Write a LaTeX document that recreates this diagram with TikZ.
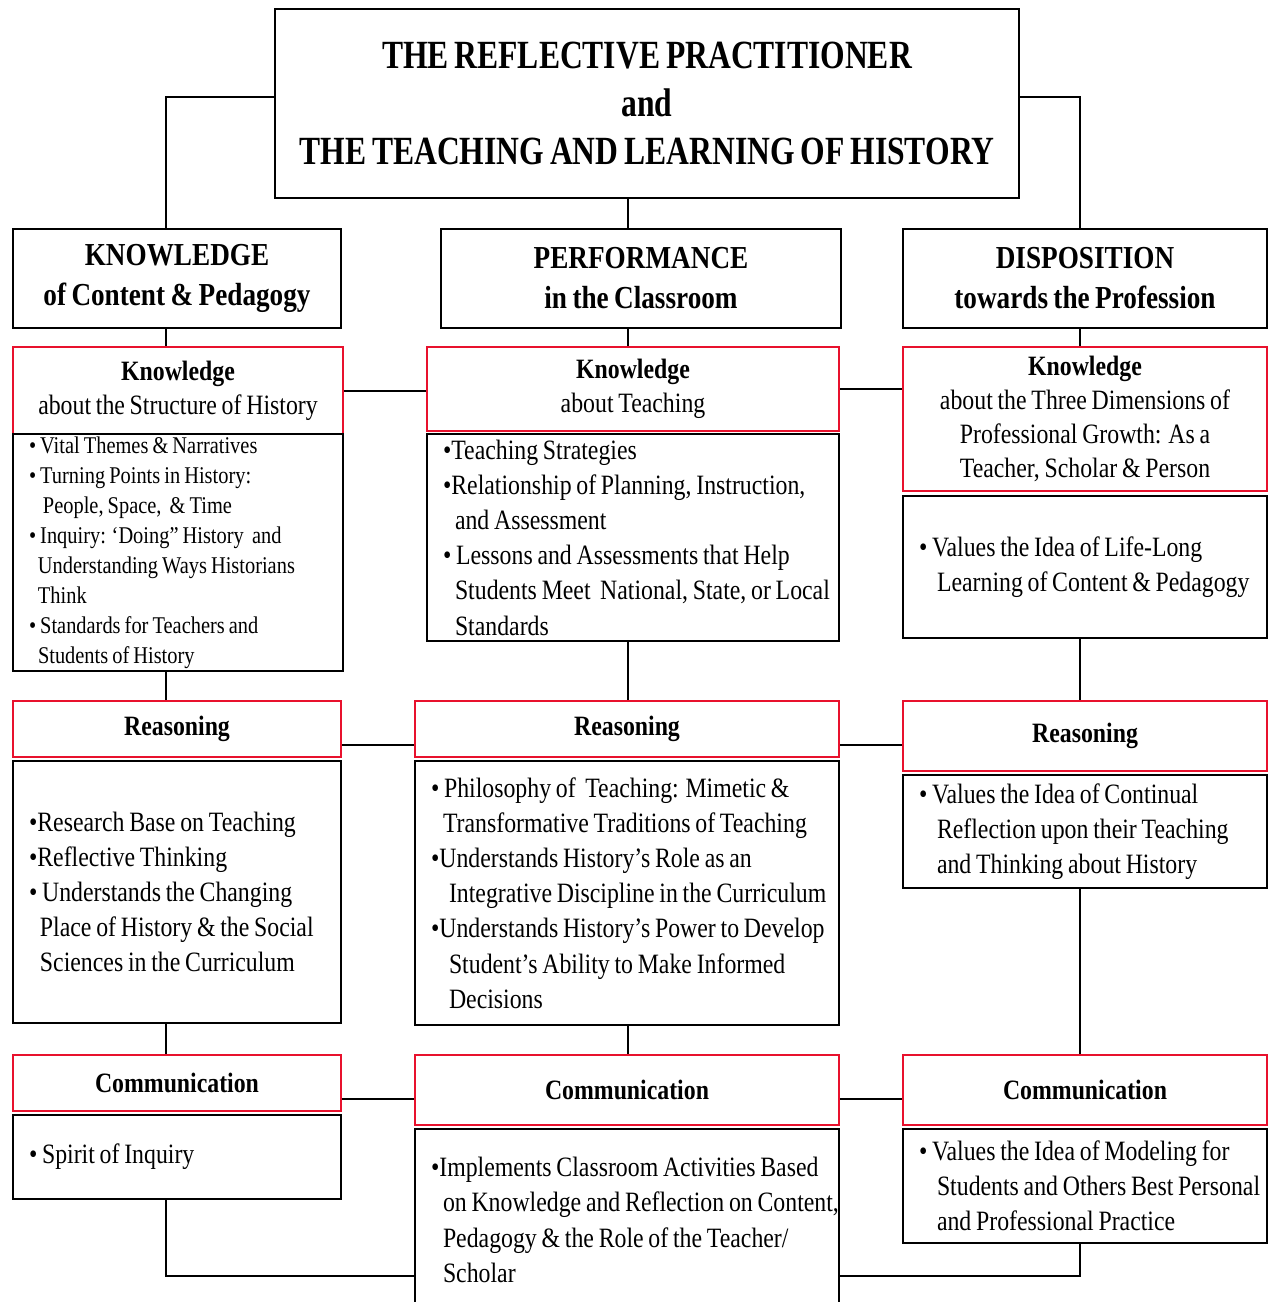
\documentclass[tikz,border=0pt]{standalone}
\usepackage{fontspec}
\setmainfont{Liberation Serif}[FakeStretch=0.85,WordSpace={0.8,0,0}]
\newfontfamily\titlefont{Liberation Serif}[FakeStretch=0.79,WordSpace={0.75,0,0}]
\usetikzlibrary{positioning}
\definecolor{boxred}{HTML}{E8112D}

\begin{document}
\begin{tikzpicture}[x=0.5pt,y=-0.5pt,
    every node/.style={inner sep=0pt},
    plainbox/.style={draw,line width=1pt,anchor=north west},
    headbox/.style={plainbox,align=center,minimum height=49.5pt,font=\bfseries\fontsize{16}{20}\selectfont},
    redbox/.style={draw=boxred,line width=1pt,anchor=north west,align=center,font=\fontsize{14}{17}\selectfont},
    listbox/.style={plainbox,align=left,inner xsep=8pt,font=\fontsize{14}{17.6}\selectfont,
      execute at begin node={\spaceskip=0pt\xspaceskip=0pt}},
    link/.style={line width=1pt}]

    \useasboundingbox (0,0) rectangle (1269,1302);
    \clip (0,0) rectangle (1269,1302);

    % trunk lines of the three columns
    \coordinate (lspine) at (166,0);
    \coordinate (pspine) at (628,0);
    \coordinate (rspine) at (1080,0);
    \coordinate (rail) at (0,1276);

    \node[plainbox,minimum width=372pt,minimum height=94.5pt,align=center,
      font=\titlefont\bfseries\fontsize{20}{24}\selectfont] (title) at (274,8)
      {THE REFLECTIVE PRACTITIONER\\and\\THE TEACHING AND LEARNING OF HISTORY};

    \node[headbox,minimum width=164pt] (khead) at (12,228) {KNOWLEDGE\\of Content \& Pedagogy};
    \node[headbox,minimum width=200pt] (phead) at (440,228) {PERFORMANCE\\in the Classroom};
    \node[headbox,minimum width=182pt] (dhead) at (902,228) {DISPOSITION\\towards the Profession};

    % knowledge row
    \node[redbox,minimum width=165pt,minimum height=43.5pt] (kknow) at (12,346)
      {\textbf{Knowledge}\\about the Structure of History};
    \node[redbox,minimum width=206pt,minimum height=42pt] (pknow) at (426,346)
      {\textbf{Knowledge}\\about Teaching};
    \node[redbox,minimum width=182pt,minimum height=72pt] (dknow) at (902,346)
      {\textbf{Knowledge}\\about the Three Dimensions of\\Professional Growth: As a\\Teacher, Scholar \& Person};

    \node[listbox,text width=149pt,minimum height=118.5pt,font=\fontsize{12}{15}\selectfont] (kknowlist) at (12,433)
      {\textbullet\ Vital Themes \& Narratives\\
       \textbullet\ Turning Points in History:\\
       \hspace*{7pt}People, Space,\ \ \& Time\\
       \textbullet\ Inquiry: ‘Doing” History\ \ and\\
       \hspace*{4.5pt}Understanding Ways Historians\\
       \hspace*{4.5pt}Think\\
       \textbullet\ Standards for Teachers and\\
       \hspace*{4.5pt}Students of History};
    \node[listbox,text width=190pt,minimum height=103.5pt] (pknowlist) at (426,433)
      {\textbullet Teaching Strategies\\
       \textbullet Relationship of Planning, Instruction,\\
       \hspace*{6pt}and Assessment\\
       \textbullet\ Lessons and Assessments that Help\\
       \mbox{\hspace*{6pt}Students Meet\ \ National, State, or Local}\\
       \hspace*{6pt}Standards};
    \node[listbox,text width=166pt,minimum height=71pt] (dknowlist) at (902,495)
      {\textbullet\ Values the Idea of Life-Long\\
       \mbox{\hspace*{9pt}Learning of Content \& Pedagogy}};

    % reasoning row
    \node[redbox,minimum width=164pt,minimum height=28pt] (kreason) at (12,700) {\textbf{Reasoning}};
    \node[redbox,minimum width=212pt,minimum height=28pt] (preason) at (414,700) {\textbf{Reasoning}};
    \node[redbox,minimum width=182pt,minimum height=35pt] (dreason) at (902,700) {\textbf{Reasoning}};

    \node[listbox,text width=148pt,minimum height=131pt] (kreasonlist) at (12,760)
      {\textbullet Research Base on Teaching\\
       \textbullet Reflective Thinking\\
       \textbullet\ Understands the Changing\\
       \mbox{\hspace*{5.5pt}Place of History \& the Social}\\
       \hspace*{5.5pt}Sciences in the Curriculum};
    \node[listbox,text width=196pt,minimum height=132pt] (preasonlist) at (414,760)
      {\textbullet\ Philosophy of\ \ Teaching: Mimetic \&\\
       \mbox{\hspace*{6pt}Transformative Traditions of Teaching}\\
       \textbullet Understands History’s Role as an\\
       \mbox{\hspace*{9pt}Integrative Discipline in the Curriculum}\\
       \mbox{\textbullet Understands History’s Power to Develop}\\
       \hspace*{9pt}Student’s Ability to Make Informed\\
       \hspace*{9pt}Decisions};
    \node[listbox,text width=166pt,minimum height=56.5pt] (dreasonlist) at (902,774)
      {\textbullet\ Values the Idea of Continual\\
       \hspace*{9pt}Reflection upon their Teaching\\
       \hspace*{9pt}and Thinking about History};

    % communication row
    \node[redbox,minimum width=164pt,minimum height=28pt] (kcomm) at (12,1054) {\textbf{Communication}};
    \node[redbox,minimum width=212pt,minimum height=35pt] (pcomm) at (414,1054) {\textbf{Communication}};
    \node[redbox,minimum width=182pt,minimum height=35pt] (dcomm) at (902,1054) {\textbf{Communication}};

    \node[listbox,text width=148pt,minimum height=42pt] (kcommlist) at (12,1114)
      {\textbullet\ Spirit of Inquiry};
    \node[listbox,text width=196pt,minimum height=91pt] (pcommlist) at (414,1128)
      {\mbox{\textbullet Implements Classroom Activities Based}\\
       \mbox{\hspace*{6pt}on Knowledge and Reflection on Content,}\\
       \hspace*{6pt}Pedagogy \& the Role of the Teacher/\\
       \hspace*{6pt}Scholar};
    \node[listbox,text width=166pt,minimum height=57pt] (dcommlist) at (902,1128)
      {\mbox{\textbullet\ Values the Idea of Modeling for}\\
       \mbox{\hspace*{9pt}Students and Others Best Personal}\\
       \hspace*{9pt}and Professional Practice};

    % connectors
    \draw[link] ([yshift=3.25pt]title.west) -| (khead.north -| lspine);
    \draw[link] ([yshift=3.25pt]title.east) -| (dhead.north -| rspine);
    \path[link]
      (title.south -| pspine) edge (phead.north -| pspine)
      (khead.south -| lspine) edge (kknow.north -| lspine)
      (phead.south -| pspine) edge (pknow.north -| pspine)
      (dhead.south -| rspine) edge (dknow.north -| rspine)
      (kknow.east) edge (kknow.east -| pknow.west)
      (pknow.east) edge (pknow.east -| dknow.west)
      (kknowlist.south -| lspine) edge (kreason.north -| lspine)
      (pknowlist.south -| pspine) edge (preason.north -| pspine)
      (dknowlist.south -| rspine) edge (dreason.north -| rspine)
      ([yshift=-8pt]kreason.east) edge ([yshift=-8pt]kreason.east -| preason.west)
      ([yshift=-8pt]preason.east) edge ([yshift=-8pt]preason.east -| dreason.west)
      (kreasonlist.south -| lspine) edge (kcomm.north -| lspine)
      (preasonlist.south -| pspine) edge (pcomm.north -| pspine)
      (dreasonlist.south -| rspine) edge (dcomm.north -| rspine)
      ([yshift=-8pt]kcomm.east) edge ([yshift=-8pt]kcomm.east -| pcomm.west)
      ([yshift=-4.5pt]pcomm.east) edge ([yshift=-4.5pt]pcomm.east -| dcomm.west);
    \draw[link] (kcommlist.south -| lspine) |- (pcommlist.west |- rail);
    \draw[link] (dcommlist.south -| rspine) |- (pcommlist.east |- rail);
\end{tikzpicture}
\end{document}
